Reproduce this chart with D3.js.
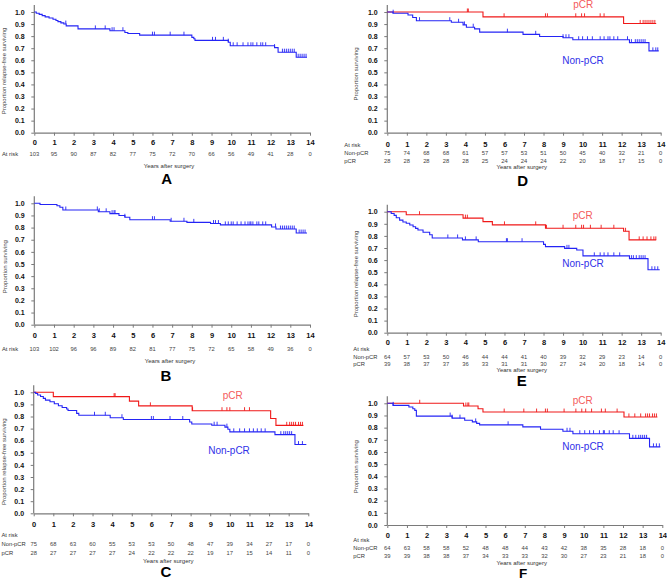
<!DOCTYPE html>
<html><head><meta charset="utf-8">
<script src="https://cdn.jsdelivr.net/npm/d3@7"></script>
<style>body{margin:0;background:#fff}svg{display:block;font-family:"Liberation Sans",Arial,sans-serif}</style>
</head><body><svg id="c" width="667" height="581"></svg>
<script>
// ---- tick labels ----
const xTicks = [0,1,2,3,4,5,6,7,8,9,10,11,12,13,14];
const yTicks = [0,0.1,0.2,0.3,0.4,0.5,0.6,0.7,0.8,0.9,1.0];
const panelLetters = ["A","B","C","D","E","F"];
const rowLabels = ["At risk","Non-pCR","pCR"];
const groupNames = ["pCR","Non-pCR"];

// ---- at-risk numbers ----
const riskA = [103,95,90,87,82,77,75,72,70,66,56,49,41,28,0];
const riskB = [103,102,96,96,89,82,81,77,75,72,65,58,49,36,0];
const riskC_non = [75,68,63,60,55,53,53,50,48,47,39,34,27,17,0];
const riskC_pcr = [28,27,27,27,27,24,22,22,22,19,17,15,14,11,0];
const riskD_non = [75,74,68,68,61,57,57,53,51,50,45,40,32,21,0];
const riskD_pcr = [28,28,28,28,28,25,24,24,24,22,20,18,17,15,0];
const riskE_non = [64,57,53,50,46,44,44,41,40,39,32,29,23,14,0];
const riskE_pcr = [39,38,37,37,36,33,31,31,30,27,24,20,18,14,0];
const riskF_non = [64,63,58,58,52,48,48,44,43,42,38,35,28,18,0];
const riskF_pcr = [39,39,38,38,37,34,33,33,32,30,27,23,21,18,0];

// ---- survival step events [years, proportion] ----
const stepsA = [[0.1,0.99],[0.25,0.98],[0.4,0.97],[0.55,0.96],[0.75,0.95],[0.95,0.94],[1.1,0.93],[1.2,0.92],[1.35,0.91],[1.5,0.9],[1.62,0.885],[2.22,0.86],[3.84,0.845],[4.6,0.83],[4.75,0.822],[5.35,0.808],[8.0,0.79],[8.1,0.778],[8.16,0.765],[9.85,0.75],[9.95,0.72],[12.2,0.705],[12.38,0.667],[13.3,0.625]];
const endA = 13.85;
const censA = [1.6,3.1,3.6,3.95,4.05,4.5,6.0,6.1,6.9,7.6,9.05,9.2,9.6,9.85,10.1,10.3,10.6,10.85,11.0,11.1,11.3,11.5,11.6,11.75,12.2,12.6,12.7,12.8,12.9,13.0,13.1,13.2,13.4,13.5,13.6,13.7,13.8];

const stepsB = [[0.29,0.99],[1.15,0.98],[1.3,0.967],[1.45,0.945],[3.25,0.93],[3.84,0.915],[4.3,0.9],[4.6,0.885],[4.85,0.865],[6.9,0.852],[7.75,0.843],[8.95,0.833],[9.45,0.822],[12.05,0.805],[12.27,0.788],[13.3,0.755]];
const endB = 13.85;
const censB = [1.6,3.2,3.3,3.65,3.95,4.05,4.1,4.6,6.0,6.1,6.95,7.6,8.1,9.1,9.2,9.35,9.7,9.85,10.0,10.1,10.3,10.5,10.7,10.85,10.95,11.0,11.1,11.3,11.4,11.6,11.75,12.25,12.5,12.6,12.7,12.8,12.9,13.0,13.1,13.2,13.45,13.55,13.65,13.75];

const stepsC_pcr = [[1.0,0.964],[4.88,0.927],[5.35,0.888],[8.08,0.848],[12.08,0.783],[12.35,0.727]];
const endC_pcr = 13.75;
const censC_pcr = [4.1,4.15,5.95,8.1,9.6,9.85,10.0,10.75,11.0,12.9,13.05,13.15,13.25,13.35,13.5,13.6,13.7];
const stepsC_non = [[0.1,0.99],[0.2,0.978],[0.35,0.965],[0.49,0.95],[0.6,0.935],[0.83,0.922],[1.05,0.905],[1.26,0.889],[1.45,0.875],[1.68,0.862],[1.75,0.85],[2.19,0.826],[2.3,0.81],[3.9,0.79],[4.57,0.775],[7.95,0.755],[8.06,0.738],[9.08,0.728],[9.75,0.712],[9.9,0.695],[10.0,0.673],[12.3,0.65],[13.32,0.568]];
const endC_non = 13.9;
const censC_non = [3.1,3.65,4.5,6.0,6.1,6.95,7.6,9.2,9.35,9.85,10.2,10.5,10.75,11.0,11.2,11.4,11.6,11.8,12.6,12.75,12.85,12.95,13.05,13.15,13.5,13.7];

const stepsD_pcr = [[4.9,0.96],[12.1,0.905]];
const endD_pcr = 13.77;
const censD_pcr = [4.1,4.15,5.98,8.1,8.2,9.65,9.95,10.1,10.9,11.1,12.95,13.1,13.2,13.3,13.4,13.5,13.6,13.7];
const stepsD_non = [[0.29,0.99],[1.06,0.975],[1.3,0.955],[1.49,0.928],[3.28,0.915],[3.88,0.893],[4.05,0.874],[4.47,0.86],[4.73,0.833],[6.95,0.815],[7.8,0.797],[9.0,0.787],[9.5,0.77],[12.4,0.746],[13.4,0.678]];
const endD_non = 13.9;
const censD_non = [0.3,1.65,3.2,3.65,3.95,4.4,6.15,7.6,9.0,9.15,9.3,9.8,10.0,10.25,10.5,10.9,11.1,11.3,11.4,11.6,11.8,12.3,12.5,12.7,12.8,12.9,13.0,13.1,13.2,13.6,13.75,13.85];

const stepsE_pcr = [[0.97,0.975],[3.88,0.947],[4.9,0.918],[5.38,0.891],[8.1,0.863],[12.1,0.838],[12.38,0.767]];
const endE_pcr = 13.77;
const censE_pcr = [1.65,4.0,4.1,6.0,7.6,8.15,9.0,9.65,9.95,10.05,10.4,10.95,11.6,12.2,12.9,13.1,13.3,13.5,13.65,13.75];
const stepsE_non = [[0.2,0.985],[0.35,0.97],[0.46,0.95],[0.63,0.93],[0.8,0.915],[0.97,0.904],[1.15,0.89],[1.32,0.876],[1.45,0.862],[1.57,0.849],[1.83,0.83],[2.17,0.81],[2.3,0.783],[3.85,0.767],[4.66,0.752],[8.0,0.73],[8.1,0.711],[9.08,0.697],[9.7,0.683],[10.02,0.635],[12.4,0.612],[13.35,0.52]];
const endE_non = 13.95;
const censE_non = [3.1,3.6,4.0,4.55,6.1,6.15,6.9,9.2,9.3,10.6,10.9,11.1,11.3,11.6,11.9,12.5,12.6,12.75,12.9,13.0,13.1,13.2,13.55,13.7,13.85];

const stepsF_pcr = [[3.88,0.978],[4.62,0.955],[4.87,0.928],[12.05,0.888]];
const endF_pcr = 13.75;
const censF_pcr = [1.65,4.0,4.1,4.15,5.95,6.95,7.6,8.05,8.15,9.0,9.6,9.9,10.1,10.4,10.9,11.1,11.7,12.3,12.6,12.9,13.15,13.25,13.35,13.5,13.6,13.7];
const stepsF_non = [[0.29,0.983],[1.1,0.97],[1.3,0.955],[1.4,0.942],[1.48,0.895],[3.3,0.878],[3.94,0.861],[4.33,0.847],[4.55,0.835],[4.7,0.823],[6.9,0.806],[7.8,0.787],[8.94,0.77],[9.45,0.75],[12.33,0.712],[13.35,0.642]];
const endF_non = 13.9;
const censF_non = [0.3,3.2,3.3,3.7,4.5,6.15,9.15,9.3,9.8,10.05,10.3,10.5,10.8,11.0,11.05,11.3,11.5,11.8,12.5,12.65,12.8,12.9,13.0,13.1,13.2,13.55,13.7,13.85];

// ---- layout ----
const BLUE = "#2424f5", RED = "#f01818";
const panels = [
  {L:"A", box:[34.3,310,12,132.7], ytitle:"Proportion relapse-free surviving", yt:[4,71],
   curves:[{s:stepsA,e:endA,c:censA,col:BLUE}], rows:[{lab:"At risk",v:riskA,y:156.3}], rowX:2,
   tickBase:145.5, years:[169,167.5], letter:[166.7,183.7,15]},
  {L:"B", box:[34.3,310,203.3,324.7], ytitle:"Proportion surviving", yt:[4.7,266.7],
   curves:[{s:stepsB,e:endB,c:censB,col:BLUE}], rows:[{lab:"At risk",v:riskB,y:351}], rowX:2,
   tickBase:338.5, years:[170,363], letter:[166,380.5,15]},
  {L:"C", box:[33.7,308.3,392.3,513.3], ytitle:"Proportion relapse-free surviving", yt:[4,461.7],
   curves:[{s:stepsC_pcr,e:endC_pcr,c:censC_pcr,col:RED},{s:stepsC_non,e:endC_non,c:censC_non,col:BLUE}],
   rows:[{lab:"At risk",v:null,y:536.5},{lab:"Non-pCR",v:riskC_non,y:546.2},{lab:"pCR",v:riskC_pcr,y:555}], rowX:1.5,
   tickBase:527, years:[168.3,562.5], letter:[166,577,15], lbl:[[232.7,399],[229,454]]},
  {L:"D", box:[387.3,660.7,12,132.7], ytitle:"Proportion surviving", yt:[355.7,74],
   curves:[{s:stepsD_pcr,e:endD_pcr,c:censD_pcr,col:RED},{s:stepsD_non,e:endD_non,c:censD_non,col:BLUE}],
   rows:[{lab:"At risk",v:null,y:147},{lab:"Non-pCR",v:riskD_non,y:154.5},{lab:"pCR",v:riskD_pcr,y:163}], rowX:344.3,
   tickBase:147, years:[521.7,168.5], letter:[522.7,186,15], lbl:[[583.3,8],[583,64]]},
  {L:"E", box:[387.3,660.7,211.7,332.7], ytitle:"Proportion relapse-free surviving", yt:[355.7,274],
   curves:[{s:stepsE_pcr,e:endE_pcr,c:censE_pcr,col:RED},{s:stepsE_non,e:endE_non,c:censE_non,col:BLUE}],
   rows:[{lab:"At risk",v:null,y:350.8},{lab:"Non-pCR",v:riskE_non,y:358.5},{lab:"pCR",v:riskE_pcr,y:365.8}], rowX:353.3,
   tickBase:345.5, years:[521.7,371.5], letter:[521.7,386,15], lbl:[[582.7,219],[583,267]]},
  {L:"F", box:[387.3,662.3,403.3,525], ytitle:"Proportion surviving", yt:[355.7,466.7],
   curves:[{s:stepsF_pcr,e:endF_pcr,c:censF_pcr,col:RED},{s:stepsF_non,e:endF_non,c:censF_non,col:BLUE}],
   rows:[{lab:"At risk",v:null,y:541.8},{lab:"Non-pCR",v:riskF_non,y:549.8},{lab:"pCR",v:riskF_pcr,y:557.8}], rowX:353.3,
   tickBase:538, years:[521.7,564.5], letter:[523,578,13.5], lbl:[[582.7,404],[583,450]]}
];

const svg = d3.select("#c");
const AX = "#7a7a7a";

function survAt(steps, t){
  let s = 1;
  for (const [tt, v] of steps){ if (tt <= t) s = v; else break; }
  return s;
}

panels.forEach(p => {
  const [x0,x1,y1,y0] = p.box;
  const x = d3.scaleLinear().domain([0,14]).range([x0,x1]);
  const y = d3.scaleLinear().domain([0,1]).range([y0,y1]);
  const g = svg.append("g");

  // y axis
  const ya = g.append("g").attr("transform",`translate(${x0},0)`)
    .call(d3.axisLeft(y).tickValues(yTicks).tickFormat(d3.format(".1f")).tickSize(3).tickSizeOuter(0).tickPadding(6.6));
  ya.select(".domain").remove();
  g.append("line").attr("x1",x0).attr("x2",x0).attr("y1",y1-7).attr("y2",y0).attr("stroke",AX).attr("stroke-width",1.2);
  ya.selectAll(".tick line").attr("stroke",AX);
  ya.selectAll(".tick text").attr("font-size",7).attr("font-weight","bold").attr("fill","#111")
    .attr("font-family","Liberation Sans, Arial, sans-serif");

  // x axis
  const xa = g.append("g").attr("transform",`translate(0,${y0})`)
    .call(d3.axisBottom(x).tickValues(xTicks).tickFormat(d3.format("d")).tickSize(3).tickSizeOuter(0));
  xa.select(".domain").attr("stroke",AX).attr("stroke-width",1.2);
  xa.selectAll(".tick line").attr("stroke",AX);
  xa.selectAll(".tick text").attr("font-size",7.5).attr("font-weight","bold").attr("fill","#111")
    .attr("font-family","Liberation Sans, Arial, sans-serif")
    .attr("dy",null).attr("y", p.tickBase - y0);

  // y title
  g.append("text").attr("transform",`translate(${p.yt[0]+2},${p.yt[1]}) rotate(-90)`)
    .attr("text-anchor","middle").attr("font-size",6).attr("fill","#444").text(p.ytitle);

  // curves
  const line = d3.line().x(d=>x(d[0])).y(d=>y(d[1])).curve(d3.curveStepAfter);
  p.curves.forEach(cv => {
    const pts = [[0,1], ...cv.s, [cv.e, cv.s[cv.s.length-1][1]]];
    g.append("path").attr("d",line(pts)).attr("fill","none").attr("stroke",cv.col).attr("stroke-width",1.1);
    g.selectAll(null).data(cv.c).enter().append("line")
      .attr("x1",d=>x(d)).attr("x2",d=>x(d))
      .attr("y1",d=>y(survAt(cv.s,d))-3.5).attr("y2",d=>y(survAt(cv.s,d)))
      .attr("stroke",cv.col).attr("stroke-width",0.9);
  });

  // group labels
  if (p.lbl){
    g.append("text").attr("x",p.lbl[0][0]).attr("y",p.lbl[0][1]).attr("text-anchor","middle")
      .attr("font-size",10).attr("fill","#f45a5a").text(groupNames[0]);
    g.append("text").attr("x",p.lbl[1][0]).attr("y",p.lbl[1][1]).attr("text-anchor","middle")
      .attr("font-size",10).attr("fill","#3030e8").text(groupNames[1]);
  }

  // at-risk rows
  p.rows.forEach(r => {
    g.append("text").attr("x",p.rowX).attr("y",r.y).attr("font-size",5.8).attr("fill","#333").text(r.lab);
    if (r.v){
      g.selectAll(null).data(r.v).enter().append("text")
        .attr("x",(d,i)=>x(xTicks[i])).attr("y",r.y).attr("text-anchor","middle")
        .attr("font-size",5.8).attr("fill","#444").text(d=>d);
    }
  });

  g.append("text").attr("x",p.years[0]).attr("y",p.years[1]).attr("text-anchor","middle")
    .attr("font-size",6).attr("fill","#333").text("Years after surgery");
  g.append("text").attr("x",p.letter[0]).attr("y",p.letter[1]).attr("text-anchor","middle")
    .attr("font-size",p.letter[2]).attr("font-weight","bold").attr("fill","#000").text(p.L);
});
</script></body></html>
